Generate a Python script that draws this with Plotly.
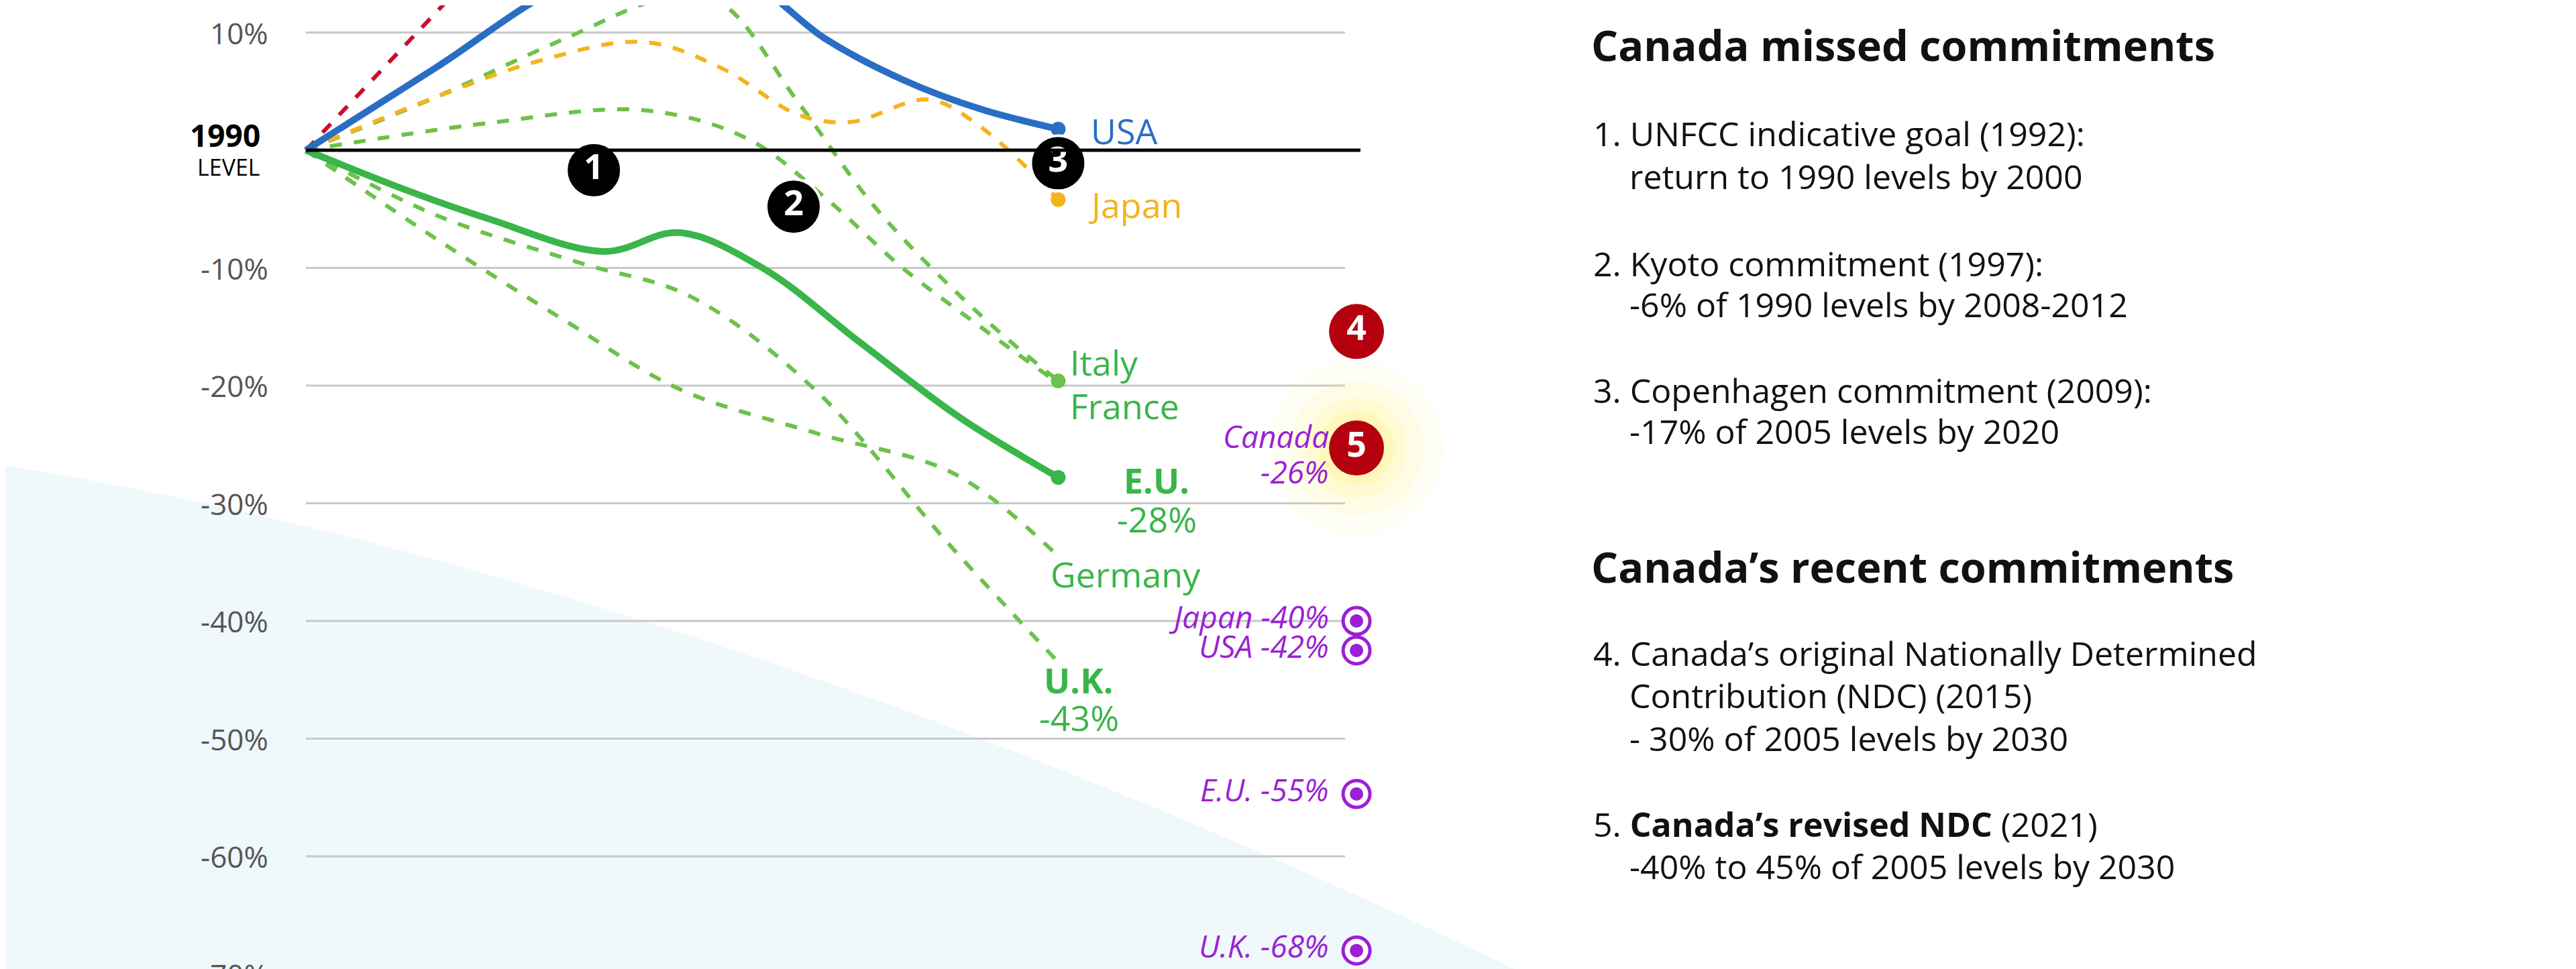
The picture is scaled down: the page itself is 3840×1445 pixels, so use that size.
import plotly.graph_objects as go

W, H = 3840, 1445
# ---- data ----
usa_years = [1990, 1995, 2000, 2004, 2007, 2010, 2013, 2016, 2019]
usa_vals = [0, 7, 14, 16, 14.5, 9.5, 6, 3.5, 1.8]
japan_years = [1990, 1995, 1999, 2003, 2006, 2009, 2011, 2014, 2016, 2019]
japan_vals = [0, 4.5, 7.6, 9.2, 7, 3, 2.4, 4.3, 2, -4.2]
canada_years = [1990, 1993, 1996]
canada_vals = [0, 7, 14]
eu_years = [1990, 1994, 1997, 2001.5, 2004.4, 2007.6, 2011.4, 2015.2, 2019]
eu_vals = [0, -3.5, -5.8, -8.6, -7, -10, -16.4, -22.7, -27.8]
italy_years = [1990, 1995, 2000, 2004, 2006, 2009, 2012, 2016, 2019]
italy_vals = [0, 4.5, 9.5, 13, 12.5, 4, -5, -14, -19.6]
france_years = [1990, 1997, 2003, 2007, 2010, 2013, 2016, 2019]
france_vals = [0, 2.3, 3.4, 1, -4, -10, -15, -19.8]
germany_years = [1990, 1995, 2000, 2004.4, 2009.6, 2015, 2019]
germany_vals = [0, -7.5, -14.5, -20.3, -24, -27.5, -34.5]
uk_years = [1990, 1995, 2000.6, 2004.8, 2009.6, 2014.8, 2019]
uk_vals = [0, -5.5, -9.6, -12.4, -20.3, -33.5, -43.5]
milestone_labels = ["1", "2", "3"]
milestone_years = [2001.1, 2008.8, 2019]
milestone_vals = [-1.7, -4.8, -1.1]
ndc_labels = ["4", "5"]
ndc_vals = [-15.4, -25.3]
target_labels = ["Japan -40%", "USA -42%", "E.U. -55%", "U.K. -68%"]
target_vals = [-40, -42.5, -54.7, -68]
target_year = 2030.5
grid_vals = [10, -10, -20, -30, -40, -50, -60, -70]
grid_text = ["10%", "-10%", "-20%", "-30%", "-40%", "-50%", "-60%", "-70%"]

# ---- scales ----
px_per_year = 38.67
x0 = 1990 - 448 / px_per_year
dom_w = 2250
px_per_pct = 17.55
ytop = 216 / px_per_pct
ybot = -(H - 216) / px_per_pct

FONT = "Open Sans"
BLUE, ORANGE, GREEN, LGREEN, RED, PURPLE = "#2a6ec4", "#f5b31c", "#3ab54a", "#6cc24a", "#c8102e", "#9b1fd6"

fig = go.Figure()

# light background swoosh
fig.add_shape(type="path", xref="paper", yref="paper", layer="below",
              path="M 0,0.525 C 0.2,0.44 0.42,0.22 0.59,0 L 0,0 Z",
              fillcolor="#eff8fb", line_width=0)

for v, t in zip(grid_vals, grid_text):
    fig.add_shape(type="line", x0=1990, x1=1990 + (1997 - 448) / px_per_year, y0=v, y1=v,
                  line=dict(color="#c8c8c8", width=3), layer="below")
    fig.add_annotation(x=1988.6, y=v, text=t, showarrow=False,
                       xanchor="right", font=dict(family=FONT, size=44, color="#555"))
fig.add_shape(type="line", x0=1990, x1=1990 + (2020 - 448) / px_per_year, y0=0, y1=0,
              line=dict(color="black", width=5))
fig.add_annotation(x=1988.3, y=1.3, text="<b>1990</b>", showarrow=False, xanchor="right",
                   font=dict(family=FONT, size=46, color="black"))
fig.add_annotation(x=1988.3, y=-1.4, text="LEVEL", showarrow=False, xanchor="right",
                   font=dict(family=FONT, size=34, color="black"))

def line(xs, ys, color, width, dash=None, end=False):
    fig.add_trace(go.Scatter(x=xs, y=ys, mode="lines", line=dict(color=color, width=width, dash=dash, shape="spline", smoothing=1.0),
                             showlegend=False, hoverinfo="skip"))
    if end:
        fig.add_trace(go.Scatter(x=[xs[-1]], y=[ys[-1]], mode="markers", marker=dict(color=color, size=22),
                                 showlegend=False, hoverinfo="skip"))

line(canada_years, canada_vals, RED, 6, "dash")
line(italy_years, italy_vals, LGREEN, 6, "dash", True)
line(france_years, france_vals, LGREEN, 6, "dash")
line(germany_years, germany_vals, LGREEN, 6, "dash")
line(uk_years, uk_vals, LGREEN, 6, "dash")
line(japan_years, japan_vals, ORANGE, 6, "dash", True)
line(eu_years, eu_vals, GREEN, 10, None, True)
line(usa_years, usa_vals, BLUE, 10, None, True)

# milestone circles
fig.add_trace(go.Scatter(x=milestone_years, y=milestone_vals, mode="markers+text", text=[f"<b>{t}</b>" for t in milestone_labels],
                         marker=dict(color="black", size=82, line=dict(color="white", width=4)),
                         textfont=dict(family=FONT, size=52, color="white"), showlegend=False, hoverinfo="skip"))
# glow behind 5
for s, o in [(260, 0.08), (200, 0.12), (150, 0.18), (110, 0.3)]:
    fig.add_trace(go.Scatter(x=[target_year], y=[ndc_vals[1]], mode="markers",
                             marker=dict(color="#fff27a", size=s, opacity=o, line_width=0), showlegend=False, hoverinfo="skip"))
fig.add_trace(go.Scatter(x=[target_year] * 2, y=ndc_vals, mode="markers+text", text=[f"<b>{t}</b>" for t in ndc_labels],
                         marker=dict(color="#b5000f", size=82), textfont=dict(family=FONT, size=52, color="white"),
                         showlegend=False, hoverinfo="skip"))
# purple targets
fig.add_trace(go.Scatter(x=[target_year] * 4, y=target_vals, mode="markers",
                         marker=dict(color="white", size=40, line=dict(color=PURPLE, width=5)), showlegend=False, hoverinfo="skip"))
fig.add_trace(go.Scatter(x=[target_year] * 4, y=target_vals, mode="markers",
                         marker=dict(color=PURPLE, size=20), showlegend=False, hoverinfo="skip"))
for t, v in zip(target_labels, target_vals):
    fig.add_annotation(x=target_year - 1.0, y=v + 0.4, text=f"<i>{t}</i>", showarrow=False, xanchor="right",
                       font=dict(family=FONT, size=46, color=PURPLE))
fig.add_annotation(x=target_year - 1.0, y=-24.3, text="<i>Canada</i>", showarrow=False, xanchor="right",
                   font=dict(family=FONT, size=46, color=PURPLE))
fig.add_annotation(x=target_year - 1.0, y=-27.3, text="<i>-26%</i>", showarrow=False, xanchor="right",
                   font=dict(family=FONT, size=46, color=PURPLE))

def lab(x, y, t, c, bold=False, anchor="left"):
    fig.add_annotation(x=x, y=y, text=f"<b>{t}</b>" if bold else t, showarrow=False, xanchor=anchor,
                       font=dict(family=FONT, size=52, color=c))

lab(2020.2, 1.7, "USA", BLUE)
lab(2020.1, -4.6, "Japan", ORANGE)
lab(2019.4, -18, "Italy", GREEN)
lab(2019.4, -21.7, "France", GREEN)
lab(2022.8, -28, "E.U.", GREEN, True, "center")
lab(2022.8, -31.3, "-28%", GREEN, False, "center")
lab(2021.6, -36, "Germany", GREEN, False, "center")
lab(2019.8, -45, "U.K.", GREEN, True, "center")
lab(2019.8, -48.2, "-43%", GREEN, False, "center")

# right panel text
def ptext(xp, yp, t, size, bold=False):
    fig.add_annotation(xref="paper", yref="paper", x=xp / W, y=1 - yp / H, text=f"<b>{t}</b>" if bold else t,
                       showarrow=False, xanchor="left", yanchor="middle", font=dict(family=FONT, size=size, color="#111"))

ptext(2362, 59, "Canada missed commitments", 63, True)
ptext(2365, 191, "1. UNFCC indicative goal (1992):", 50)
ptext(2419, 255, "return to 1990 levels by 2000", 50)
ptext(2365, 385, "2. Kyoto commitment (1997):", 50)
ptext(2419, 446, "-6% of 1990 levels by 2008-2012", 50)
ptext(2365, 574, "3. Copenhagen commitment (2009):", 50)
ptext(2419, 635, "-17% of 2005 levels by 2020", 50)
ptext(2362, 836, "Canada’s recent commitments", 63, True)
ptext(2365, 966, "4. Canada’s original Nationally Determined", 50)
ptext(2419, 1029, "Contribution (NDC) (2015)", 50)
ptext(2419, 1093, "- 30% of 2005 levels by 2030", 50)
ptext(2365, 1221, "5. <b>Canada’s revised NDC</b> (2021)", 50)
ptext(2419, 1284, "-40% to 45% of 2005 levels by 2030", 50)

fig.update_layout(width=W, height=H, margin=dict(l=0, r=0, t=0, b=0), plot_bgcolor="rgba(0,0,0,0)",
                  paper_bgcolor="white", showlegend=False,
                  xaxis=dict(domain=[0, dom_w / W], range=[x0, x0 + dom_w / px_per_year], visible=False, fixedrange=True),
                  yaxis=dict(range=[ybot, ytop], visible=False, fixedrange=True))
fig.write_html("out.html")
